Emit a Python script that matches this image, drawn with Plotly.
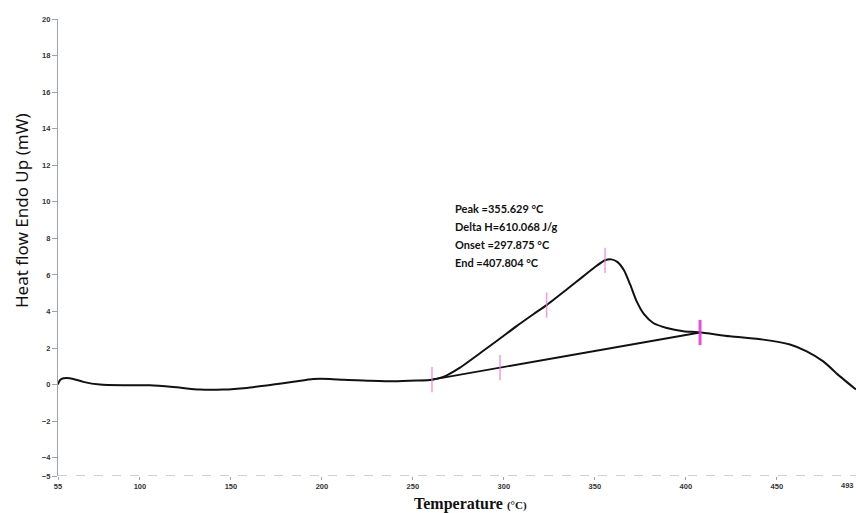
import plotly.graph_objects as go

# DSC curve (temperature °C, heat flow mW)
temp = [55.0, 55.2, 57.0, 59.8, 63.4, 68.9, 78.0, 90.9, 105.5, 118.3, 133.0, 145.8,
        158.7, 173.3, 184.3, 195.3, 204.5, 212.0, 222.7, 239.2, 252.0, 260.5, 266.7,
        275.9, 288.7, 297.9, 307.0, 316.2, 323.5, 334.5, 343.6, 351.0, 355.6, 359.0,
        362.5, 366.0, 369.5, 373.0, 377.0, 382.1, 389.5, 398.6, 407.3, 424.2, 442.5,
        457.2, 466.4, 475.5, 484.7, 493.5]
heat = [0.0, 0.09, 0.31, 0.36, 0.31, 0.15, 0.0, -0.04, -0.04, -0.13, -0.27, -0.27,
        -0.18, 0.0, 0.15, 0.31, 0.31, 0.26, 0.23, 0.18, 0.22, 0.27, 0.42,
        0.93, 1.85, 2.52, 3.20, 3.85, 4.35, 5.20, 5.92, 6.50, 6.80, 6.85,
        6.70, 6.25, 5.45, 4.55, 3.85, 3.37, 3.10, 2.92, 2.86, 2.64, 2.46,
        2.19, 1.82, 1.27, 0.45, -0.27]

# integration baseline
base_t = [260.5, 407.8]
base_h = [0.27, 2.85]

# pink event markers
mark_t = [260.5, 297.9, 323.5, 355.6]
mark_h = [0.27, 0.93, 4.35, 6.80]
end_t = [407.8]
end_h = [2.85]

notes = ["Peak =355.629 °C", "Delta H=610.068 J/g", "Onset =297.875 °C", "End =407.804 °C"]
note_y = [9.62, 8.63, 7.65, 6.67]
note_x = 272

x_ticks = [55, 100, 150, 200, 250, 300, 350, 400, 450]
x_labels = ["55", "100", "150", "200", "250", "300", "350", "400", "450"]
x_end_label = "493"
y_ticks = [20, 18, 16, 14, 12, 10, 8, 6, 4, 2, 0, -2, -4, -5]

fig = go.Figure()
fig.add_trace(go.Scatter(x=temp, y=heat, mode="lines", line=dict(color="#111111", width=2, shape="spline", smoothing=0.6),
                         showlegend=False, hoverinfo="skip"))
fig.add_trace(go.Scatter(x=base_t, y=base_h, mode="lines", line=dict(color="#111111", width=1.8),
                         showlegend=False, hoverinfo="skip"))
fig.add_trace(go.Scatter(x=mark_t, y=mark_h, mode="markers",
                         marker=dict(symbol="line-ns", size=18, line=dict(color="rgba(235,120,220,0.75)", width=1.5)),
                         showlegend=False, hoverinfo="skip"))
fig.add_trace(go.Scatter(x=end_t, y=end_h, mode="markers",
                         marker=dict(symbol="line-ns", size=18, line=dict(color="rgba(230,60,210,0.9)", width=3)),
                         showlegend=False, hoverinfo="skip"))

for txt, yy in zip(notes, note_y):
    fig.add_annotation(x=note_x, y=yy, xref="x", yref="y", text=txt, showarrow=False,
                       xanchor="left", yanchor="middle",
                       font=dict(family="Lato", size=11, color="#111111", weight="bold"))

# last x tick label at the right edge
fig.add_annotation(x=493.5, y=-5, xref="x", yref="y", text=x_end_label, showarrow=False,
                   xanchor="right", yanchor="top", yshift=-3,
                   font=dict(family="Liberation Sans", size=7.5, color="#333333", weight="bold"))

# axis titles (positions given in pixels, converted below)
fig.add_annotation(x=21, y=211, xref="paper", yref="paper", text="Heat flow Endo Up (mW)", showarrow=False,
                   textangle=-90, font=dict(family="Noto Sans", size=17, color="#111111"))
fig.add_annotation(x=470, y=504, xref="paper", yref="paper",
                   text="<b>Temperature</b> <span style='font-size:11px'><b>(°C)</b></span>", showarrow=False,
                   font=dict(family="Liberation Serif", size=16, color="#111111"))

# bottom axis line (dashed look)
fig.add_shape(type="line", xref="paper", yref="y", x0=0, x1=1, y0=-5, y1=-5,
              line=dict(color="#9da2b8", width=1.2, dash="dash"))

fig.update_layout(
    width=856, height=513,
    margin=dict(l=58, r=0, t=19, b=37),
    paper_bgcolor="white", plot_bgcolor="white",
    xaxis=dict(range=[55, 493.5], tickvals=x_ticks, ticktext=x_labels, showgrid=False, zeroline=False,
               showline=False, ticks="outside", ticklen=3, tickcolor="#9da2b8",
               tickfont=dict(family="Liberation Sans", size=7.5, color="#333333", weight="bold")),
    yaxis=dict(range=[-5, 20], tickvals=y_ticks, showgrid=False, zeroline=False,
               showline=True, linecolor="#9da2b8", linewidth=1.2, ticks="outside", ticklen=5, tickcolor="#9da2b8",
               tickfont=dict(family="Liberation Sans", size=7.5, color="#333333", weight="bold")),
)
# convert pixel-positioned title annotations to paper coords
W, H = 856, 513
pw, ph = W - 58, H - 19 - 37
for ann in fig.layout.annotations:
    if ann.xref == "paper":
        px, py = ann.x, ann.y
        ann.x = (px - 58) / pw
        ann.y = (H - 37 - py) / ph
        ann.xanchor = "center"
        ann.yanchor = "middle"

fig.write_html("out.html")
